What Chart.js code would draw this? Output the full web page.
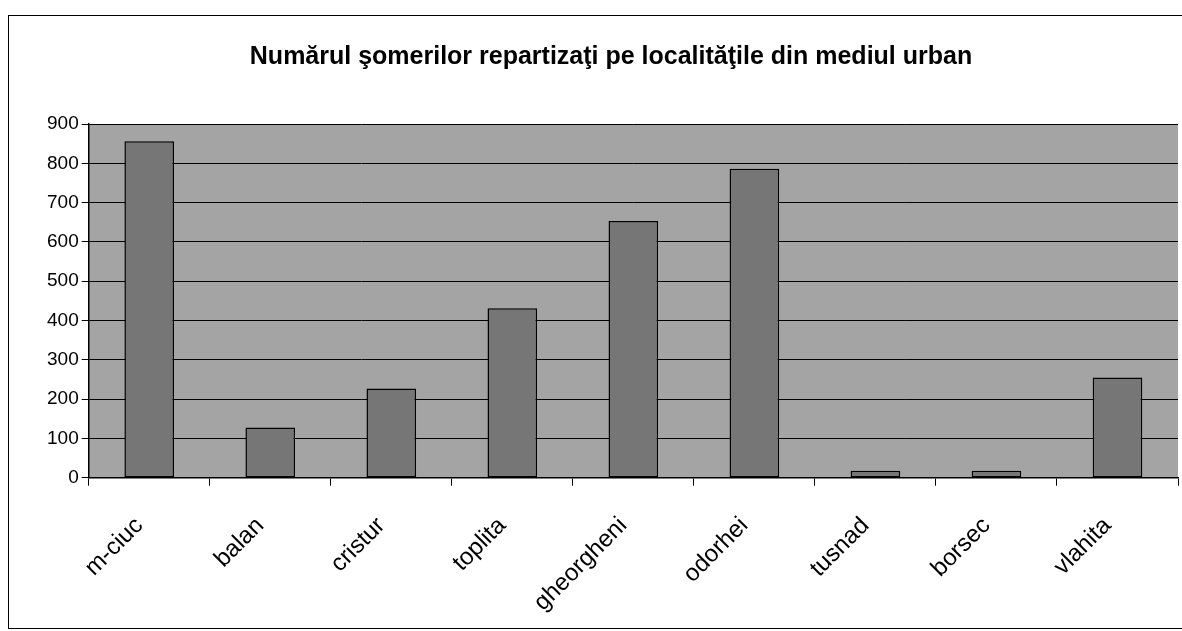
<!DOCTYPE html>
<html>
<head>
<meta charset="utf-8">
<script src="https://cdn.jsdelivr.net/npm/chart.js@4"></script>
<style>
  html, body { margin: 0; padding: 0; background: #fff; overflow: hidden; }
  #wrap { position: relative; width: 1182px; height: 631px; overflow: hidden; }
  #frame {
    position: absolute; left: 8px; top: 15px; width: 1180px; height: 612px;
    border-left: 1px solid #000; border-top: 1px solid #000; border-bottom: 1px solid #000;
    pointer-events: none;
  }
  canvas { position: absolute; left: 0; top: 0; }
</style>
</head>
<body>
<div id="wrap">
  <canvas id="chart" width="1182" height="646"></canvas>
  <div id="frame"></div>
</div>
<script>
// date din grafic
const localitati = ["m-ciuc", "balan", "cristur", "toplita", "gheorgheni", "odorhei", "tusnad", "borsec", "vlahita"];
const someri = [856, 128, 227, 431, 653, 786, 18, 18, 255];
const titlu = "Numărul şomerilor repartizaţi pe localităţile din mediul urban";

// fundal gri pentru zona graficului
const plotBg = {
  id: "plotBg",
  beforeDraw(chart) {
    const { ctx, chartArea } = chart;
    ctx.save();
    ctx.fillStyle = "#a4a4a4";
    ctx.fillRect(chartArea.left, chartArea.top, chartArea.right - chartArea.left, chartArea.bottom - chartArea.top);
    ctx.restore();
  },
};

const fontFamily = "'Liberation Sans', Arial, sans-serif";

new Chart(document.getElementById("chart"), {
  type: "bar",
  data: {
    labels: localitati,
    datasets: [
      {
        label: "someri",
        data: someri,
        backgroundColor: "#767676",
        borderColor: "#000",
        borderWidth: 1.5,
        borderSkipped: false,
        categoryPercentage: 1,
        barPercentage: 0.41,
      },
    ],
  },
  options: {
    responsive: false,
    animation: false,
    layout: { padding: { left: 44, right: 4, top: 42, bottom: 3 } },
    plugins: {
      legend: { display: false },
      tooltip: { enabled: false },
      title: {
        display: true,
        text: titlu,
        color: "#000",
        font: { family: fontFamily, size: 25, weight: "bold" },
        padding: { top: 0, bottom: 52 },
      },
    },
    scales: {
      x: {
        offset: true,
        grid: {
          offset: true,
          drawOnChartArea: false,
          drawTicks: true,
          tickLength: 8,
          color: "#000",
        },
        border: { color: "#000", width: 1.5 },
        ticks: {
          color: "#000",
          font: { family: fontFamily, size: 24 },
          maxRotation: 45,
          minRotation: 45,
          padding: 26,
          labelOffset: -10,
        },
      },
      y: {
        min: 0,
        max: 900,
        grid: { color: "#000", lineWidth: 1, tickLength: 7 },
        border: { color: "#000", width: 1.5 },
        ticks: {
          stepSize: 100,
          color: "#000",
          font: { family: fontFamily, size: 19 },
          padding: 3,
        },
      },
    },
  },
  plugins: [plotBg],
});
</script>
</body>
</html>
